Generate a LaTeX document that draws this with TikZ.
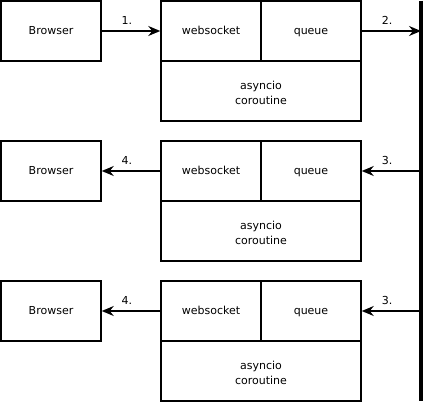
\documentclass[tikz,border=0pt]{standalone}
\usepackage{fontspec}
\setmainfont{DejaVu Sans}
\usetikzlibrary{arrows.meta,positioning,calc}

\tikzset{
  box/.style={draw,line width=1.5pt,inner sep=0pt,minimum width=100pt,minimum height=60pt,
    text height=0.9em,text depth=0.12em},
  widebox/.style={draw,line width=1.5pt,inner sep=0pt,minimum width=200pt,minimum height=60pt,align=center},
  msg/.style={line width=1.5pt,-{Stealth[length=12pt,width=10pt,inset=4pt]}},
  step label/.style={above=2pt,font=\fontsize{11}{13}\selectfont}
}

\begin{document}
\begin{tikzpicture}[x=1pt,y=-1pt,font=\fontsize{11}{15}\selectfont]
\useasboundingbox (0,0) rectangle (425,406);
% message bus
\coordinate (bustop) at (421,1);
\coordinate (busbot) at (421,401);
\draw[line width=4pt] (bustop) -- (busbot);
% three rows: browser + websocket handler
\foreach \i in {1,2,3}{
  \pgfmathsetmacro{\ry}{31+140*(\i-1)}
  \node[box] (browser\i) at (51,\ry) {Browser};
  \node[box] (ws\i) at (211,\ry) {websocket};
  \node[box] (queue\i) at (311,\ry) {queue};
  \node[widebox] (async\i) at (261,\ry+60) {\rule{0pt}{13pt}asyncio\\coroutine};
  \coordinate (bus\i) at (421,\ry);
}
% incoming request
\draw[msg] (browser1) -- node[step label,pos=0.43] {1.} (ws1);
\draw[msg] (queue1) -- node[step label,pos=0.43] {2.} (bus1);
% fan out to the other handlers
\foreach \i in {2,3}{
  \draw[msg] (bus\i) -- node[step label,pos=0.57] {3.} (queue\i);
  \draw[msg] (ws\i) -- node[step label,pos=0.57] {4.} (browser\i);
}
\end{tikzpicture}
\end{document}
